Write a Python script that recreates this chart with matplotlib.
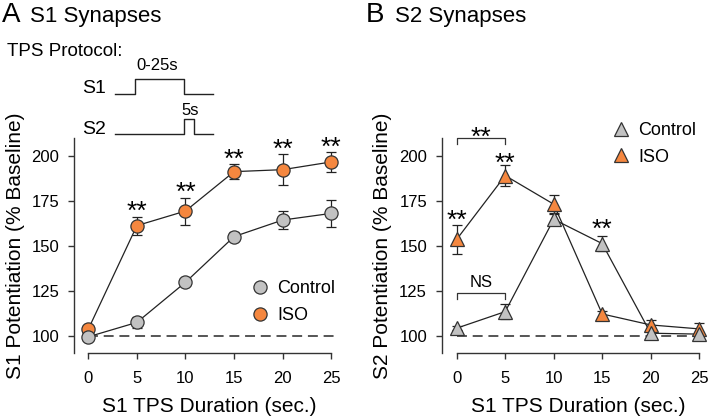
import numpy as np
import matplotlib
matplotlib.use("Agg")
import matplotlib.pyplot as plt

plt.rcParams['font.family'] = ['Liberation Sans', 'DejaVu Sans']

# data
dur = [0, 5, 10, 15, 20, 25]

a_ctrl = [99.5, 107.5, 129.8, 155.2, 164.4, 168.1]
a_ctrl_err = [1.0, 3.0, 1.0, 2.5, 5.0, 7.5]
a_iso = [103.7, 161.3, 169.4, 191.3, 192.4, 196.7]
a_iso_err = [1.0, 5.0, 7.5, 4.0, 8.5, 5.5]
a_stars = [5, 10, 15, 20, 25]

b_ctrl = [104.3, 113.5, 164.8, 151.3, 101.5, 101.0]
b_ctrl_err = [1.0, 4.0, 3.0, 4.0, 1.5, 1.0]
b_iso = [153.7, 189.1, 173.2, 112.2, 106.1, 103.9]
b_iso_err = [8.0, 6.0, 5.0, 1.5, 3.0, 3.0]

orange = '#F5873F'
gray = '#C2C2C2'
edge = '#333333'

W, H = 709, 418
fig = plt.figure(figsize=(W / 100, H / 100), dpi=100)


def px_axes(x0, x1, y0, y1):
    return fig.add_axes([x0 / W, 1 - y1 / H, (x1 - x0) / W, (y1 - y0) / H])


def style(ax, xl, xr):
    ax.set_xlim(xl, xr)
    ax.set_ylim(90.5, 210)
    for s in ['top', 'right']:
        ax.spines[s].set_visible(False)
    for s in ['left', 'bottom']:
        ax.spines[s].set_color(edge)
        ax.spines[s].set_linewidth(1.0)
    ax.spines['bottom'].set_bounds(0, 25)
    ax.set_xticks(dur)
    ax.set_yticks([100, 125, 150, 175, 200])
    ax.tick_params(axis='y', length=4.5, width=1.0, pad=6, labelsize=12, color=edge)
    ax.tick_params(axis='x', length=4, width=1.0, pad=9, labelsize=12, color=edge)
    ax.hlines(100, 0, 25.5, colors='#484848', linestyles=(0, (5.5, 3.2)), lw=1.3, zorder=1)


def series(ax, y, err, color, marker, ms, label):
    ax.errorbar(dur, y, yerr=err, fmt='none', ecolor='#222222', elinewidth=0.9,
                capsize=3.7, capthick=0.9, zorder=2)
    ax.plot(dur, y, color='#222222', lw=0.9, zorder=2)
    ax.plot(dur, y, ls='none', marker=marker, ms=ms, mfc=color, mec=edge,
            mew=0.9, zorder=3, label=label, clip_on=False)


# panel A
axA = px_axes(74, 340, 138, 353)
style(axA, -1.47, 25.9)
series(axA, a_iso, a_iso_err, orange, 'o', 9.5, 'ISO')
series(axA, a_ctrl, a_ctrl_err, gray, 'o', 9.5, 'Control')
for x in a_stars:
    i = dur.index(x)
    axA.text(x, a_iso[i] + a_iso_err[i] + 2.5, '**', ha='center', va='center',
             fontsize=19, clip_on=False)
h, l = axA.get_legend_handles_labels()
axA.legend(h[::-1], l[::-1], loc='center left', bbox_to_anchor=(0.665, 0.236),
           frameon=False, fontsize=13, handlelength=1, handletextpad=0.45,
           borderpad=0, borderaxespad=0, labelspacing=0.55)

# panel B
axB = px_axes(441.7, 705, 138, 353)
style(axB, -1.55, 25.6)
series(axB, b_iso, b_iso_err, orange, '^', 9.5, 'ISO')
series(axB, b_ctrl, b_ctrl_err, gray, '^', 9.5, 'Control')
axB.text(0, b_iso[0] + b_iso_err[0] + 2.5, '**', ha='center', va='center', fontsize=19)
axB.text(5, b_iso[1] + b_iso_err[1] + 0.5, '**', ha='center', va='center', fontsize=19)
axB.text(15, b_ctrl[3] + b_ctrl_err[3] + 3.5, '**', ha='center', va='center', fontsize=19)
# brackets
axB.plot([0, 0, 5, 5], [206.7, 210, 210, 206.7], color='#333333', lw=0.9, clip_on=False)
axB.text(2.5, 210, '**', ha='center', va='center', fontsize=19, clip_on=False)
axB.plot([0, 0, 5, 5], [120.5, 123.7, 123.7, 120.5], color='#333333', lw=0.9)
axB.text(2.5, 129.6, 'NS', ha='center', va='center', fontsize=12)
h, l = axB.get_legend_handles_labels()
axB.legend(h[::-1], l[::-1], loc='center left', bbox_to_anchor=(0.645, 0.973),
           frameon=False, fontsize=13, handlelength=1, handletextpad=0.47,
           borderpad=0, borderaxespad=0, labelspacing=0.55)

# axis labels
fig.text(16 / W, 1 - 245.5 / H, 'S1 Potentiation (% Baseline)', rotation=90,
         ha='center', va='center', fontsize=15)
fig.text(382.5 / W, 1 - 245.5 / H, 'S2 Potentiation (% Baseline)', rotation=90,
         ha='center', va='center', fontsize=15)
fig.text(209 / W, 1 - 406 / H, 'S1 TPS Duration (sec.)', ha='center', va='center', fontsize=15)
fig.text(578 / W, 1 - 406 / H, 'S1 TPS Duration (sec.)', ha='center', va='center', fontsize=15)

# panel titles
fig.text(2 / W, 1 - 22 / H, 'A', fontsize=20, va='baseline')
fig.text(30 / W, 1 - 22 / H, 'S1 Synapses', fontsize=16, va='baseline')
fig.text(366 / W, 1 - 22 / H, 'B', fontsize=20, va='baseline')
fig.text(395 / W, 1 - 22 / H, 'S2 Synapses', fontsize=16, va='baseline')

# TPS protocol schematic
fig.text(7 / W, 1 - 56 / H, 'TPS Protocol:', fontsize=13.5, va='baseline')
axP = px_axes(115, 213.3, 79, 134)
axP.set_xlim(0, 10)
axP.set_ylim(0, 3.7)
axP.axis('off')
s1_t = [0, 2, 2, 7, 7, 10]
s1_v = [2.7, 2.7, 3.7, 3.7, 2.7, 2.7]
s2_t = [0, 7, 7, 8, 8, 10]
s2_v = [0, 0, 1, 1, 0, 0]
axP.plot(s1_t, s1_v, color='#222222', lw=1.0, clip_on=False)
axP.plot(s2_t, s2_v, color='#222222', lw=1.0, clip_on=False)
axP.text(-0.9, 3.07, 'S1', ha='right', va='center', fontsize=14)
axP.text(-0.9, 0.27, 'S2', ha='right', va='center', fontsize=14)
axP.text(4.3, 4.58, '0-25s', ha='center', va='center', fontsize=12)
axP.text(7.6, 1.6, '5s', ha='center', va='center', fontsize=12)

fig.savefig('out.png', dpi=100)
